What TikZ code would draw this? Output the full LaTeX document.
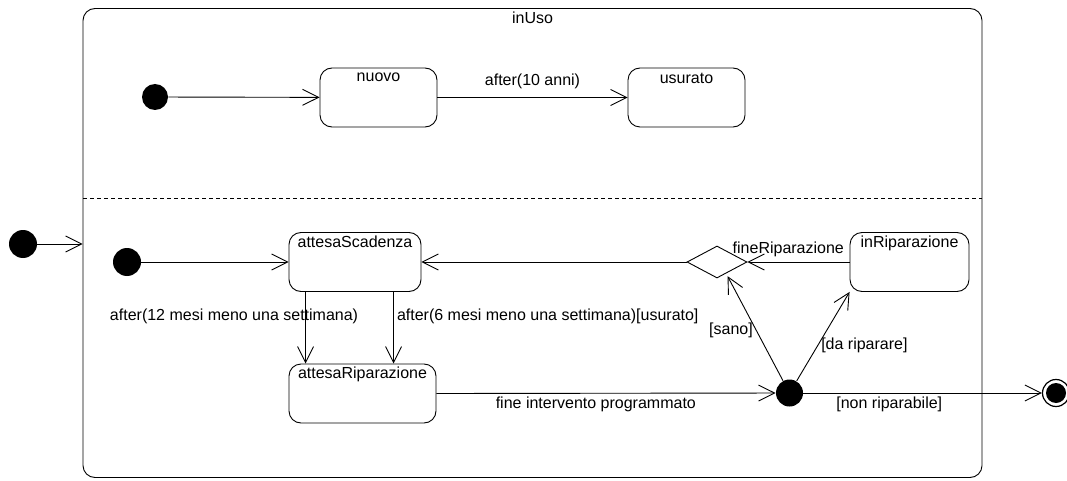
\documentclass[tikz,border=0pt]{standalone}
\usepackage{fontspec}
\setmainfont{Liberation Sans}
\usetikzlibrary{arrows.meta,shapes.geometric,calc}
\begin{document}
\begin{tikzpicture}[x=1pt,y=-1pt,
  font=\fontsize{16}{19}\selectfont,
  line width=0.9pt,
  statebox/.style={draw, rounded corners=12pt, minimum width=#1, minimum height=59pt, inner sep=0pt},
  toplabel/.style={anchor=north, inner sep=3pt},
  initdot/.style={circle, fill=black, minimum size=28pt, inner sep=0pt},
  arr/.style={-{Straight Barb[length=16pt,width=16pt,line width=0.9pt]}},
  lbl/.style={inner sep=3pt}
]
\useasboundingbox (0,0) rectangle (1067,481);

% composite state
\node[draw, rounded corners=12pt, minimum width=899pt, minimum height=469pt, inner sep=0pt,
      label={[toplabel]north:inUso}] (inuso) at (532.5,243) {};
\draw[dash pattern=on 4pt off 3pt] (83,198) -- (982,198);

% upper region
\node[initdot, minimum size=26pt] (i1) at (155,97) {};
\node[statebox=117pt, label={[toplabel,yshift=-2pt]north:nuovo}] (nuovo) at (378.5,97.5) {};
\node[statebox=117pt, label={[toplabel,yshift=-2pt]north:usurato}] (usurato) at (686.5,97.5) {};
\draw[arr] (i1) -- (nuovo);
\draw[arr] (nuovo) -- node[lbl, above=5pt]{after(10 anni)} (usurato);

% outer initial
\node[initdot] (i0) at (23,244) {};
\draw[arr] (i0) -- (i0 -| inuso.west);

% lower region
\node[initdot] (i2) at (127,262) {};
\node[statebox=132pt, label={[toplabel]north:attesaScadenza}] (as) at (355,262) {};
\node[statebox=147pt, label={[toplabel]north:attesaRiparazione}] (ar) at (362.5,393.5) {};
\node[diamond, draw, minimum width=60pt, minimum height=32pt, inner sep=0pt] (d) at (717,262) {};
\node[statebox=119pt, label={[toplabel]north:inRiparazione}] (ir) at (909.5,262) {};
\node[initdot, minimum size=27pt] (j) at (789.5,393) {};
\node[circle, draw, line width=1.2pt, minimum size=27pt, inner sep=0pt] (fin) at (1056,393) {};
\fill (fin.center) circle (10pt);

\draw[arr] (i2) -- (as);
\draw[arr] ($(as.south west)+(17,0)$) -- node[lbl, pos=0.34, anchor=east, xshift=56pt]{after(12 mesi meno una settimana)} ($(ar.north west)+(17,0)$);
\draw[arr] ($(as.south west)+(105,0)$) -- node[lbl, pos=0.34, anchor=west]{after(6 mesi meno una settimana)[usurato]} ($(ar.north west)+(105,0)$);
\draw[arr] (d.west) -- (as.east);
\draw[arr] (ir.west) -- node[lbl, pos=0.6, above=2pt]{fineRiparazione} (d.east);
\draw[arr] (ar.east) -- node[lbl, pos=0.47, below]{fine intervento programmato} (j);
\draw[arr, shorten >=3pt] (j) -- node[lbl, pos=0.47, left]{[sano]} ($(d.south)!0.3!(d.east)$);
\draw[arr] (j) -- node[lbl, pos=0.40, right]{[da riparare]} (ir.south west);
\draw[arr] (j) -- node[lbl, pos=0.36, below]{[non riparabile]} (fin);
\end{tikzpicture}
\end{document}
